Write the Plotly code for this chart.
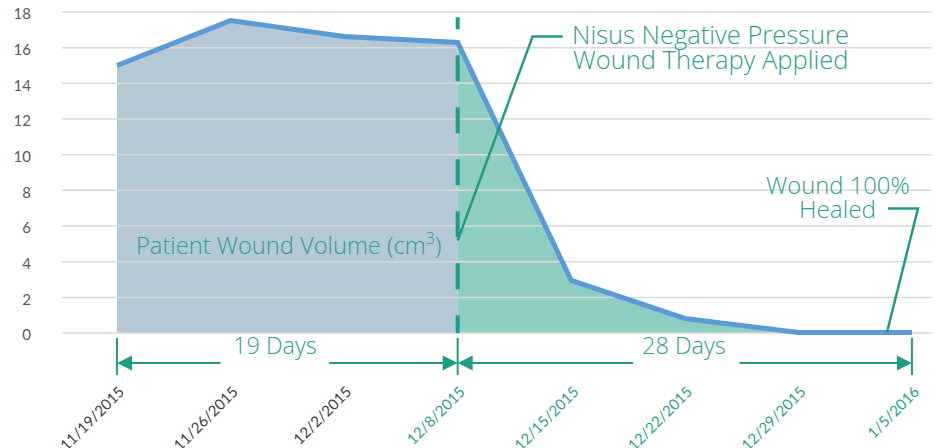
import plotly.graph_objects as go

# ---- data ----
dates = ["11/19/2015", "11/26/2015", "12/2/2015", "12/8/2015",
         "12/15/2015", "12/22/2015", "12/29/2015", "1/5/2016"]
volume = [15.0, 17.52, 16.63, 16.29, 2.95, 0.82, 0.03, 0.03]
treatment_index = 3          # 12/8/2015: therapy applied
y_ticks = [0, 2, 4, 6, 8, 10, 12, 14, 16, 18]
label_before = "19 Days"
label_after = "28 Days"
label_series = "Patient Wound Volume (cm<sup>3</sup>)"
label_therapy = ["Nisus Negative Pressure", "Wound Therapy Applied"]
label_healed = ["Wound 100%", "Healed"]

# ---- styles ----
PRE_FILL = "#b4c8d5"
POST_FILL = "#8fcdc2"
LINE_BLUE = "#5b9bd5"
TEAL = "#1f9c85"
TEAL_TEXT = "#2aa08e"
GRID = "#d9d9d9"
FONT = "Lato"
TFONT = "Open Sans"
XR = [-0.484, 7.247]
YR = [-0.276, 18.224]

x = list(range(len(dates)))
t = treatment_index

fig = go.Figure()
fig.add_trace(go.Scatter(x=x[:t + 1], y=volume[:t + 1], mode="lines", fill="tozeroy",
                         fillcolor=PRE_FILL, line=dict(width=0), hoverinfo="skip"))
fig.add_trace(go.Scatter(x=x[t:], y=volume[t:], mode="lines", fill="tozeroy",
                         fillcolor=POST_FILL, line=dict(width=0), hoverinfo="skip"))
# gridlines drawn over the fills
gx, gy = [], []
for v in y_ticks:
    gx += [XR[0], XR[1], None]
    gy += [v, v, None]
fig.add_trace(go.Scatter(x=gx, y=gy, mode="lines", line=dict(color=GRID, width=1.5),
                         hoverinfo="skip"))
fig.add_trace(go.Scatter(x=x, y=volume, mode="lines", line=dict(color=LINE_BLUE, width=5),
                         hoverinfo="skip"))
dash = ",".join(["12px"] + ["26px"] * 13)
fig.add_trace(go.Scatter(x=[t, t], y=[17.7, 0], mode="lines",
                         line=dict(color=TEAL, width=4, dash=dash), hoverinfo="skip"))

# leader lines
def path(pts):
    return "M " + " L ".join(f"{a},{b}" for a, b in pts)

fig.add_shape(type="path", xref="x", yref="y", layer="above",
              path=path([(t, 5.19), (3.66, 16.63), (3.925, 16.63)]),
              line=dict(color=TEAL, width=2.5))
fig.add_shape(type="path", xref="x", yref="y", layer="above",
              path=path([(6.78, 0.03), (7.053, 6.98), (6.789, 6.98)]),
              line=dict(color=TEAL, width=2.5))

# bracket ticks
for xi in [0, t, len(dates) - 1]:
    fig.add_shape(type="line", xref="x", yref="paper", x0=xi, x1=xi, y0=0, y1=-0.112,
                  line=dict(color=TEAL, width=2))

YA = -0.0758
arrows = [(0, 105), (t, -130), (t, 177), (len(dates) - 1, -174)]
annotations = []
for xi, ax in arrows:
    annotations.append(dict(x=xi, y=YA, xref="x", yref="paper", ax=ax, ay=0, text="",
                            showarrow=True, arrowhead=2, arrowsize=1.5, arrowwidth=2,
                            arrowcolor=TEAL))

def tfont(size):
    return dict(family=TFONT, size=size, color=TEAL_TEXT, weight=300)

annotations += [
    dict(x=1.395, y=YA, xref="x", yref="paper", text=label_before, showarrow=False,
         font=tfont(23.5)),
    dict(x=4.996, y=YA, xref="x", yref="paper", text=label_after, showarrow=False,
         font=tfont(23.5)),
    dict(x=1.514, y=5.05, xref="x", yref="y", text=label_series, showarrow=False,
         font=tfont(23.7)),
    dict(x=5.228, y=16.74, xref="x", yref="y", text=label_therapy[0], showarrow=False,
         font=tfont(25.5)),
    dict(x=5.228, y=15.36, xref="x", yref="y", text=label_therapy[1], showarrow=False,
         font=tfont(25.5)),
    dict(x=6.348, y=8.32, xref="x", yref="y", text=label_healed[0], showarrow=False,
         font=tfont(23.8)),
    dict(x=6.348, y=6.98, xref="x", yref="y", text=label_healed[1], showarrow=False,
         font=tfont(24.3)),
]

tick_text = [d if i < t else f'<span style="color:{TEAL_TEXT}">{d}</span>'
             for i, d in enumerate(dates)]

fig.update_layout(
    width=940, height=448,
    margin=dict(l=54, r=8, t=0, b=118),
    plot_bgcolor="white", paper_bgcolor="white",
    showlegend=False,
    annotations=annotations,
    xaxis=dict(range=XR, tickmode="array", tickvals=x, ticktext=tick_text, tickangle=-45,
               showgrid=False, zeroline=False, showline=False, ticks="", automargin=False,
               tickfont=dict(family=FONT, size=15, color="#404040"),
               ticklabelstandoff=41, ticklabelshift=3, ticklabeloverflow="allow",
               fixedrange=True),
    yaxis=dict(range=YR, tickmode="array", tickvals=y_ticks, showgrid=False, zeroline=False,
               showline=False, ticks="", automargin=False,
               tickfont=dict(family=FONT, size=15, color="#595959"),
               ticklabelstandoff=30, ticklabelshift=2, ticklabeloverflow="allow",
               fixedrange=True),
)

fig.write_html("out.html")
